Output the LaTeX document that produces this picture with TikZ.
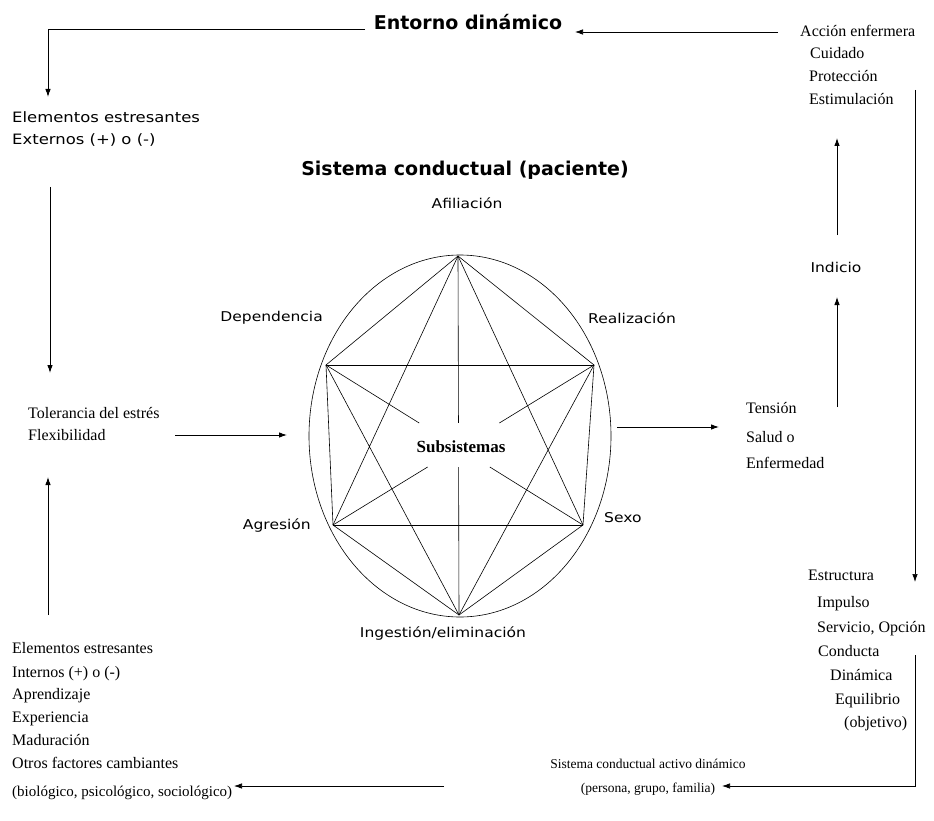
\documentclass[tikz,border=0pt]{standalone}
\usepackage{fontspec}
\setmainfont{Liberation Serif}
\newfontfamily\lsans[FakeStretch=1.15]{DejaVu Sans}
\newfontfamily\bsans{DejaVu Sans}
\usetikzlibrary{arrows.meta,calc}
\begin{document}
\begin{tikzpicture}[x=1pt,y=-1pt,
  ser/.style={font=\fontsize{16}{20}\selectfont, inner sep=0pt, anchor=base west},
  serc/.style={font=\fontsize{13.5}{16}\selectfont, inner sep=0pt, anchor=base},
  san/.style={font=\lsans\fontsize{13.5}{16}\selectfont, inner sep=0pt},
  ttl/.style={font=\bsans\bfseries\fontsize{19}{22}\selectfont, inner sep=0pt},
  arr/.style={draw, line width=0.9pt, -{Latex[length=8pt,width=5.5pt]}},
  edge/.style={line width=0.6pt}]
\useasboundingbox[fill=white] (0,0) rectangle (934,821);

% titles
\node[ttl] (entorno) at (468,22) {Entorno dinámico};
\node[ttl] (title) at (465,170) {Sistema conductual (paciente)};

% left top
\node[san, font=\lsans\fontsize{14.3}{16}\selectfont, anchor=base west] (ext1) at (12,123) {Elementos estresantes};
\node[san, font=\lsans\fontsize{14.3}{16}\selectfont, anchor=base west] (ext2) at (12,145) {Externos (+) o (-)};

% left middle
\node[ser] (tol1) at (28,418) {Tolerancia del estrés};
\node[ser] (tol2) at (28,440) {Flexibilidad};

% left bottom
\node[ser] (in1) at (12,653) {Elementos estresantes};
\node[ser] (in2) at (12,677) {Internos (+) o (-)};
\node[ser] (in3) at (12,699) {Aprendizaje};
\node[ser] (in4) at (12,722) {Experiencia};
\node[ser] (in5) at (12,745) {Maduración};
\node[ser] (in6) at (12,768) {Otros factores cambiantes};
\node[ser, font=\fontsize{15}{18}\selectfont] (in7) at (12,796) {(biológico, psicológico, sociológico)};

% bottom centre
\node[serc] (act1) at (648,768) {Sistema conductual activo dinámico};
\node[serc] (act2) at (648,792) {(persona, grupo, familia)};

% right top
\node[ser] (acc1) at (800,37) {Acción enfermera};
\node[ser] (acc2) at (810,59) {Cuidado};
\node[ser] (acc3) at (809,82) {Protección};
\node[ser] (acc4) at (809,105) {Estimulación};

\node[san] (ind) at (836,267) {Indicio};

\node[ser] (ten1) at (746,413) {Tensión};
\node[ser] (ten2) at (746,442) {Salud o};
\node[ser] (ten3) at (746,468) {Enfermedad};

% right bottom
\node[ser] (es1) at (808,580) {Estructura};
\node[ser] (es2) at (817,607) {Impulso};
\node[ser] (es3) at (817,632) {Servicio, Opción};
\node[ser] (es4) at (818,656) {Conducta};
\node[ser] (es5) at (830,680) {Dinámica};
\node[ser] (es6) at (835,704) {Equilibrio};
\node[ser] (es7) at (844,727) {(objetivo)};

% subsystem labels
\node[san] (afil) at (467,203) {Afiliación};
\node[san, anchor=east] (dep) at (323,318) {Dependencia};
\node[san, anchor=west] (rea) at (588,318) {Realización};
\node[san, anchor=east] (agr) at (311,526) {Agresión};
\node[san, anchor=west] (sexo) at (604,518) {Sexo};
\node[san] (ing) at (443,634) {Ingestión/eliminación};

% ellipse and hexagon
\draw[edge] (460,436) ellipse [x radius=151, y radius=181];
\coordinate (T) at (458,256);
\coordinate (UL) at (326,365);
\coordinate (UR) at (594,365);
\coordinate (LL) at (333,525);
\coordinate (LR) at (583,525);
\coordinate (B) at (459,615);
\node[font=\bfseries\fontsize{17}{20}\selectfont, inner sep=0pt] (subs) at (461,447) {Subsistemas};
\draw[edge] (T) -- (UR) -- (LR) -- (B) -- (LL) -- (UL) -- cycle;
\draw[edge] (UL) -- (UR) (LL) -- (LR);
\draw[edge] (T) -- (LL) (T) -- (LR) (B) -- (UL) (B) -- (UR);
\draw[edge] (T) -- ($(T)!0.465!(B)$) ($(T)!0.588!(B)$) -- (B);
\draw[edge] (UL) -- ($(UL)!0.3625!(LR)$) ($(UL)!0.6375!(LR)$) -- (LR);
\draw[edge] (UR) -- ($(UR)!0.3625!(LL)$) ($(UR)!0.6375!(LL)$) -- (LL);

% connectors
\coordinate (eL) at (365,29);
\coordinate (eC) at (48,29);
\coordinate (eD) at (48,97);
\draw[arr] (eL) -- (eC) -- (eD);

\coordinate (x1) at (50,187);
\coordinate (x2) at (50,373);
\draw[arr] (x1) -- (x2);

\coordinate (u1) at (48,615);
\coordinate (u2) at (48,477);
\draw[arr] (u1) -- (u2);

\coordinate (t1) at (175,435);
\coordinate (t2) at (287,435);
\draw[arr] (t1) -- (t2);

\coordinate (r1) at (617,427);
\coordinate (r2) at (719,427);
\draw[arr] (r1) -- (r2);

\coordinate (i1) at (837,407);
\coordinate (i2) at (837,297);
\draw[arr] (i1) -- (i2);

\coordinate (i3) at (837,235);
\coordinate (i4) at (837,138);
\draw[arr] (i3) -- (i4);

\coordinate (a1) at (778,32);
\coordinate (a2) at (575,32);
\draw[arr, line width=0.7pt] (a1) -- (a2);

\coordinate (v1) at (915,90);
\coordinate (v2) at (915,582);
\draw[arr, line width=0.7pt] (v1) -- (v2);

\coordinate (w1) at (915,655);
\coordinate (w2) at (915,786);
\coordinate (w3) at (722,786);
\draw[arr, line width=0.7pt] (w1) -- (w2) -- (w3);

\coordinate (b1) at (444,786);
\coordinate (b2) at (234,786);
\draw[arr, line width=0.7pt] (b1) -- (b2);
\end{tikzpicture}
\end{document}
